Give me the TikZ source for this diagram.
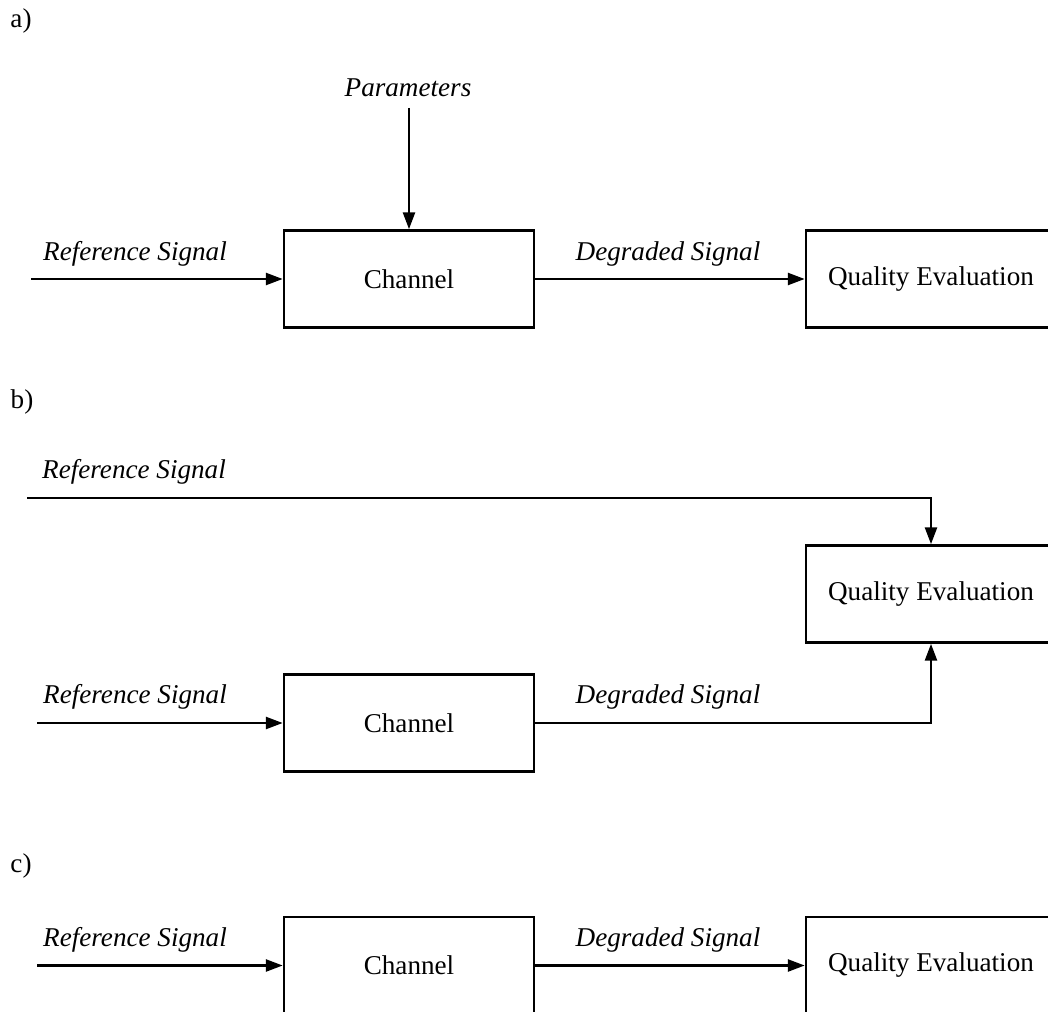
\documentclass[tikz,border=0pt]{standalone}
\usepackage{fontspec}
\setmainfont{Liberation Serif}
\usetikzlibrary{positioning,arrows.meta}

\begin{document}
\begin{tikzpicture}[x=0.025cm, y=-0.025cm, line width=1.8pt,
    every node/.style={font=\fontsize{19.3}{23}\selectfont},
    block/.style={draw, minimum width=177.8pt, minimum height=69pt, inner sep=0pt},
    sig/.style={font=\fontsize{19.3}{23}\selectfont\itshape},
    >={Triangle[length=12pt,width=8.5pt]}]

    \path[use as bounding box] (0,0) rectangle (1048,1012);
    \clip (0,0) rectangle (1048,1012);

    % a) Nodes
    \node at (21,21) (tagA) {a)};
    \node at (409,279) (chanA) [block] {Channel};
    \node at (931,279) (qualA) [block] {Quality Evaluation};
    \node at (408,88) (params) [sig] {Parameters};
    \node at (135,254) (refA) [sig] {Reference Signal};
    \node at (668,254) (degA) [sig] {Degraded Signal};
    \coordinate (inA) at (31,279);
    \coordinate (parA) at (409,108);

    % a) Arrows
    \draw[->] (inA) -- (chanA.west);
    \draw[->] (parA) -- (chanA.north);
    \draw[->] (chanA) -- (qualA);

    % b) Nodes
    \node at (22,402) (tagB) {b)};
    \node at (409,723) (chanB) [block] {Channel};
    \node at (931,594) (qualB) [block] {Quality Evaluation};
    \node at (134,472) (refTopB) [sig] {Reference Signal};
    \node at (135,697) (refB) [sig] {Reference Signal};
    \node at (668,697) (degB) [sig] {Degraded Signal};
    \coordinate (inTopB) at (27,498);
    \coordinate (inB) at (37,723);

    % b) Arrows
    \draw[->] (inTopB) -| (qualB.north);
    \draw[->] (inB) -- (chanB.west);
    \draw[->] (chanB) -| (qualB.south);

    % c) Nodes
    \node at (21,866) (tagC) {c)};
    \node at (409,965.5) (chanC) [block] {Channel};
    \node at (931,965.5) (qualC) [block] {Quality Evaluation};
    \node at (135,940) (refC) [sig] {Reference Signal};
    \node at (668,940) (degC) [sig] {Degraded Signal};
    \coordinate (inC) at (37,965.5);

    % c) Arrows
    \draw[->] (inC) -- (chanC.west);
    \draw[->] (chanC) -- (qualC);

\end{tikzpicture}
\end{document}
